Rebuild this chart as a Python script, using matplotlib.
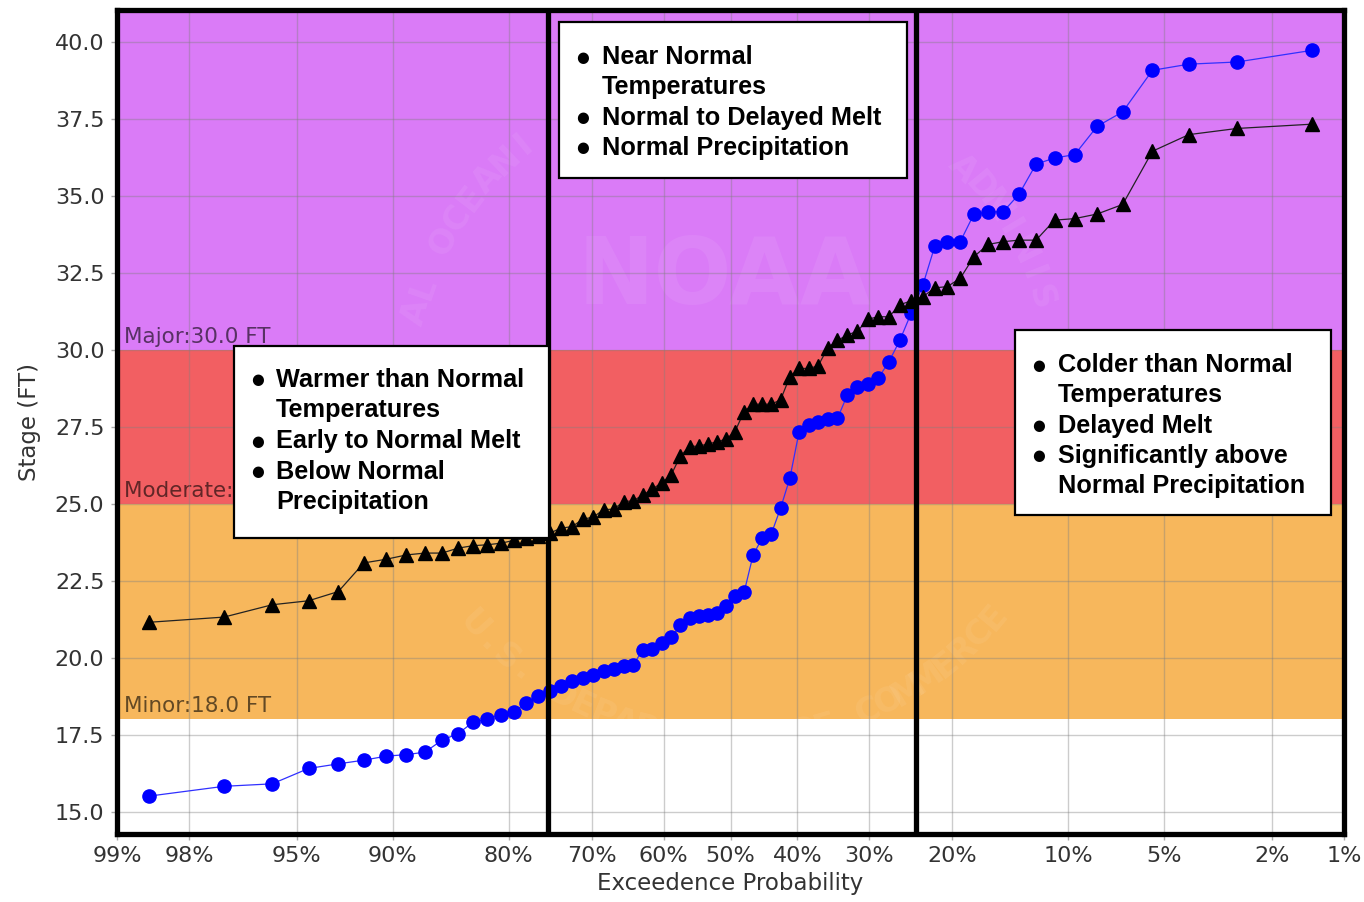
import math
from statistics import NormalDist

import matplotlib
matplotlib.use("Agg")
import matplotlib.pyplot as plt
import numpy as np
from matplotlib.patches import Rectangle
from matplotlib.ticker import NullLocator
from matplotlib.transforms import blended_transform_factory

# exceedance probability (%) of each plotted point, left to right
exceedance = [
    98.63, 97.26, 95.89, 94.52, 93.15, 91.78, 90.41, 89.04, 87.67, 86.30,
    84.93, 83.56, 82.19, 80.82, 79.45, 78.08, 76.71, 75.34, 73.97, 72.60,
    71.23, 69.86, 68.49, 67.12, 65.75, 64.38, 63.01, 61.64, 60.27, 58.90,
    57.53, 56.16, 54.79, 53.42, 52.05, 50.68, 49.32, 47.95, 46.58, 45.21,
    43.84, 42.47, 41.10, 39.73, 38.36, 36.99, 35.62, 34.25, 32.88, 31.51,
    30.14, 28.77, 27.40, 26.03, 24.66, 23.29, 21.92, 20.55, 19.18, 17.81,
    16.44, 15.07, 13.70, 12.33, 10.96, 9.59, 8.22, 6.85, 5.48, 4.11,
    2.74, 1.37,
]

stage_blue = [
    15.50, 15.82, 15.90, 16.40, 16.55, 16.67, 16.80, 16.85, 16.93, 17.32,
    17.53, 17.90, 18.01, 18.15, 18.23, 18.53, 18.77, 18.91, 19.09, 19.23,
    19.34, 19.45, 19.56, 19.63, 19.72, 19.77, 20.26, 20.28, 20.48, 20.66,
    21.05, 21.29, 21.36, 21.40, 21.45, 21.67, 22.01, 22.12, 23.34, 23.89,
    24.03, 24.86, 25.83, 27.35, 27.56, 27.67, 27.75, 27.78, 28.54, 28.81,
    28.90, 29.08, 29.62, 30.32, 31.20, 32.11, 33.38, 33.52, 33.52, 34.41,
    34.49, 34.49, 35.06, 36.04, 36.24, 36.35, 37.27, 37.74, 39.09, 39.29,
    39.36, 39.74,
]

stage_black = [
    21.15, 21.32, 21.72, 21.85, 22.15, 23.08, 23.20, 23.34, 23.40, 23.40,
    23.56, 23.64, 23.67, 23.72, 23.81, 23.89, 23.95, 24.05, 24.21, 24.26,
    24.50, 24.57, 24.81, 24.83, 25.07, 25.10, 25.29, 25.48, 25.69, 25.94,
    26.56, 26.86, 26.88, 26.94, 27.02, 27.10, 27.35, 28.00, 28.24, 28.24,
    28.24, 28.38, 29.13, 29.40, 29.40, 29.48, 30.07, 30.31, 30.49, 30.61,
    31.00, 31.08, 31.08, 31.47, 31.60, 31.73, 32.02, 32.06, 32.33, 33.03,
    33.43, 33.52, 33.57, 33.57, 34.22, 34.27, 34.42, 34.73, 36.46, 37.00,
    37.20, 37.34,
]

x_ticks = [99, 98, 95, 90, 80, 70, 60, 50, 40, 30, 20, 10, 5, 2, 1]
y_ticks = [15.0, 17.5, 20.0, 22.5, 25.0, 27.5, 30.0, 32.5, 35.0, 37.5, 40.0]

flood_levels = [("Minor", 18.0), ("Moderate", 25.0), ("Major", 30.0)]
band_colors = ["#f7b75c", "#f25f62", "#da7bf7"]

# split lines drawn over the chart (exceedance %)
split_lines = [75.5, 24.05]

box_left = ["Warmer than Normal\nTemperatures", "Early to Normal Melt", "Below Normal\nPrecipitation"]
box_mid = ["Near Normal\nTemperatures", "Normal to Delayed Melt", "Normal Precipitation"]
box_right = ["Colder than Normal\nTemperatures", "Delayed Melt", "Significantly above\nNormal Precipitation"]

W, H = 1364, 902
ND = NormalDist()

# box outlines in pixels (x0, y0, x1, y1)
boxes = [(234, 346, 549, 538), (559, 22, 907, 178), (1015, 330, 1331, 515)]


def fwd(p):
    p = np.clip(np.asarray(p, dtype=float), 1e-6, 100 - 1e-6)
    return np.vectorize(lambda v: ND.inv_cdf(v / 100.0), otypes=[float])(p)


def inv(z):
    z = np.asarray(z, dtype=float)
    return np.vectorize(lambda v: 100.0 * ND.cdf(v), otypes=[float])(z)


def fx(px):
    return px / W


def fy(py):
    return 1 - py / H


def under_box(px, py, pad=18):
    for x0, y0, x1, y1 in boxes:
        if x0 - pad <= px <= x1 + pad and y0 - pad <= py <= y1 + pad:
            return True
    return False


fig = plt.figure(figsize=(W / 100, H / 100), dpi=100)
ax = fig.add_axes([fx(117), fy(834), fx(1344) - fx(117), fy(10) - fy(834)])

ax.set_xscale("function", functions=(fwd, inv))
ax.set_xlim(99, 1)
ax.set_ylim(14.27, 41.05)

# flood category bands
ymax = 41.05
edges = [lv for _, lv in flood_levels] + [ymax]
trans = blended_transform_factory(ax.transAxes, ax.transData)
for i, (name, lv) in enumerate(flood_levels):
    ax.axhspan(lv, edges[i + 1], color=band_colors[i], zorder=0.1, lw=0)
    ax.text(0.006, lv + 0.1, f"{name}:{lv:.1f} FT", transform=trans, fontsize=15.5,
            color="black", alpha=0.6, ha="left", va="bottom", zorder=1.2)

# faint watermark
cx, cy = 730, 395
for txt, a0, a1, r in [("NATIONAL OCEANIC AND ATMOSPHERIC ADMINISTRATION", 192, -14, 325),
                       ("U.S. DEPARTMENT OF COMMERCE", -138, -40, 345)]:
    angs = np.linspace(a0, a1, len(txt))
    for ch, a in zip(txt, angs):
        rad = math.radians(a)
        px = cx + r * math.cos(rad)
        py = cy - r * math.sin(rad)
        if ch == " " or under_box(px, py):
            continue
        rot = a - 90 if a > 0 else a + 90
        ax.text(fx(px), fy(py), ch, transform=fig.transFigure, fontsize=24, fontweight="bold",
                color="white", alpha=0.07, rotation=rot, ha="center", va="center", zorder=1.1)
ax.text(fx(725), fy(278), "NOAA", transform=fig.transFigure, fontsize=66, fontweight="bold",
        color="white", alpha=0.07, ha="center", va="center", zorder=1.1)

ax.plot(exceedance, stage_blue, color="#3030ff", lw=0.9, marker="o", markersize=9.5,
        markerfacecolor="#0000ff", markeredgecolor="#0000ff", zorder=3)
ax.plot(exceedance, stage_black, color="#222222", lw=0.9, marker="^", markersize=9.5,
        markerfacecolor="black", markeredgecolor="black", zorder=3)

for v in split_lines:
    ax.axvline(v, color="black", lw=3.8, zorder=5)

ax.set_xticks(x_ticks)
ax.set_xticklabels([f"{t}%" for t in x_ticks])
ax.xaxis.set_minor_locator(NullLocator())
ax.set_yticks(y_ticks)
ax.set_yticklabels([f"{t:.1f}" for t in y_ticks])
ax.grid(True, color="#808080", alpha=0.4, lw=1.0)
ax.tick_params(axis="both", labelsize=16, labelcolor="#333333", color="#aaaaaa",
               length=4, width=1, pad=5)
for s in ax.spines.values():
    s.set_linewidth(3.8)
    s.set_color("black")
    s.set_zorder(6)

ax.set_xlabel("Exceedence Probability", fontsize=16.5, color="#333333", labelpad=4)
ax.set_ylabel("Stage (FT)", fontsize=16.5, color="#333333", labelpad=10)


def text_box(box, items, bx, tx, ys):
    x0, y0, x1, y1 = box
    fig.add_artist(Rectangle((fx(x0), fy(y1)), fx(x1) - fx(x0), fy(y0) - fy(y1),
                             transform=fig.transFigure, facecolor="white",
                             edgecolor="black", lw=1.6, zorder=10))
    k = 0
    for item in items:
        for j, line in enumerate(item.split("\n")):
            if j == 0:
                fig.text(fx(bx), fy(ys[k]), "\u25cf", fontsize=10.5, family="DejaVu Sans",
                         ha="center", va="center", zorder=11)
            fig.text(fx(tx), fy(ys[k]), line, fontsize=18.2, family="Liberation Sans",
                     fontweight="bold", ha="left", va="center", zorder=11)
            k += 1


text_box(boxes[0], box_left, 258, 276, [380, 410, 441, 472, 502])
text_box(boxes[1], box_mid, 583, 602, [57, 87, 118, 148])
text_box(boxes[2], box_right, 1039, 1058, [365, 395, 426, 456, 486])

fig.savefig("out.png", dpi=100)
